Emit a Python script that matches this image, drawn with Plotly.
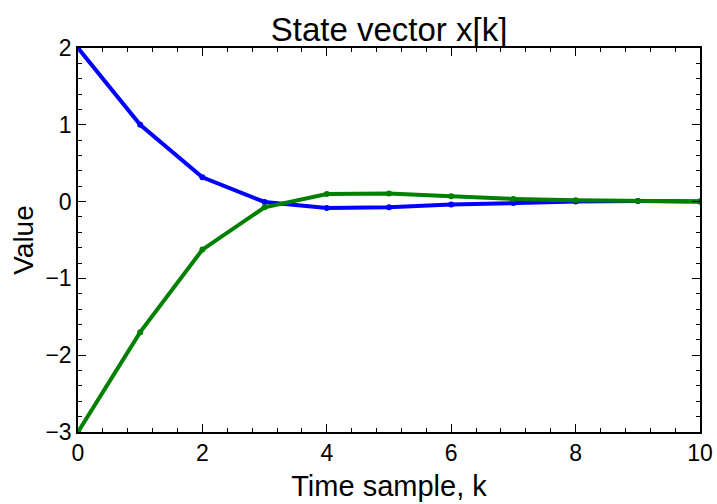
import plotly.graph_objects as go

k = list(range(11))
x1 = [2.0, 1.0, 0.316, -0.005, -0.082, -0.074, -0.039, -0.017, 0.0, 0.008, 0.0]
x2 = [-3.0, -1.70, -0.625, -0.074, 0.10, 0.104, 0.07, 0.035, 0.017, 0.008, 0.0]
xticks = [0, 2, 4, 6, 8, 10]
yticks = [-3, -2, -1, 0, 1, 2]
yticklabels = ["\u22123", "\u22122", "\u22121", "0", "1", "2"]

fig = go.Figure()
fig.add_trace(go.Scatter(x=k, y=x1, mode="lines+markers",
                         line=dict(color="#0000ff", width=4),
                         marker=dict(color="#0000ff", size=6)))
fig.add_trace(go.Scatter(x=k, y=x2, mode="lines+markers",
                         line=dict(color="#008000", width=4),
                         marker=dict(color="#008000", size=6)))

axis_common = dict(showline=True, linecolor="black", linewidth=1.5, mirror="allticks",
                   ticks="inside", ticklen=8, tickwidth=1.2, tickcolor="black",
                   showgrid=False, zeroline=False, automargin=False,
                   tickfont=dict(size=23, color="black"))

fig.update_layout(
    width=717, height=504,
    margin=dict(l=78, r=17, t=48, b=72),
    paper_bgcolor="white", plot_bgcolor="white",
    font=dict(family="Liberation Sans, Arial, sans-serif", color="black"),
    showlegend=False,
    title=dict(text="State vector x[k]", x=0.5, xanchor="center", xref="paper",
               y=(504 - 29) / 504, yref="container", yanchor="middle", automargin=False,
               font=dict(size=33, color="black")),
    xaxis=dict(range=[0, 10], tickvals=xticks, ticktext=[str(v) for v in xticks],
               minor=dict(dtick=0.4, ticks="inside", ticklen=4, tickcolor="black", tick0=0),
               title=dict(text="Time sample, k", font=dict(size=29), standoff=10),
               **axis_common),
    yaxis=dict(range=[-3, 2], tickvals=yticks, ticktext=yticklabels,
               minor=dict(dtick=0.2, ticks="inside", ticklen=4, tickcolor="black", tick0=0),
               title=dict(text="Value", font=dict(size=28), standoff=4),
               **axis_common),
)
fig.write_html("out.html", config={"displayModeBar": False},
               post_script="document.body.style.margin='0';")
